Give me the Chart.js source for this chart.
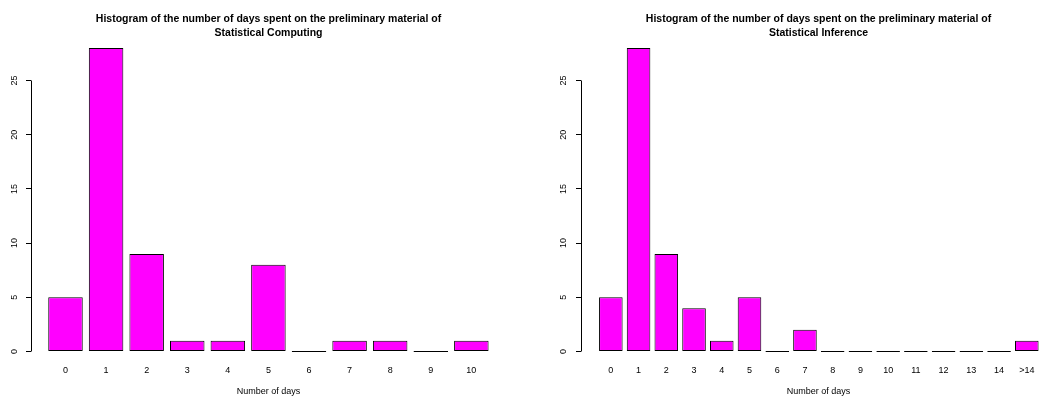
<!DOCTYPE html>
<html>
<head>
<meta charset="utf-8">
<script src="https://cdn.jsdelivr.net/npm/chart.js@4"></script>
<style>
html,body{margin:0;padding:0;background:#fff;overflow:hidden;width:1040px;height:399px}
canvas{position:absolute;top:0}
#computing{left:0}
#inference{left:550px}
</style>
</head>
<body>
<canvas id="computing" width="537" height="399"></canvas>
<canvas id="inference" width="537" height="399"></canvas>
<script>
const computingDays = ["0","1","2","3","4","5","6","7","8","9","10"];
const computingCounts = [5,28,9,1,1,8,0,1,1,0,1];
const inferenceDays = ["0","1","2","3","4","5","6","7","8","9","10","11","12","13","14",">14"];
const inferenceCounts = [5,28,9,4,1,5,0,2,0,0,0,0,0,0,0,1];
const yTicks = [0,5,10,15,20,25];

Chart.defaults.font.family = "'Liberation Sans', Arial, sans-serif";
Chart.defaults.color = "#000";

// R draws the y axis line only between the first and last tick
const yAxisLine = {
  id: "yAxisLine",
  afterDraw(chart){
    const s = chart.scales.y, ctx = chart.ctx;
    const x = Math.round(chart.chartArea.left) + 0.5;
    ctx.save();
    ctx.strokeStyle = "#000";
    ctx.lineWidth = 1;
    ctx.beginPath();
    ctx.moveTo(x, s.getPixelForValue(yTicks[0]));
    ctx.lineTo(x, s.getPixelForValue(yTicks[yTicks.length-1]));
    ctx.stroke();
    ctx.restore();
  }
};

function makeChart(id, subject, labels, counts, xmin, xmax, labelPad){
  return new Chart(document.getElementById(id), {
    type: "bar",
    data: {
      datasets: [{
        data: counts.map((v,i)=>({x:i, y:v})),
        backgroundColor: "#ff00ff",
        borderColor: "#000",
        borderWidth: 1,
        borderSkipped: false,
        minBarLength: 1,
        barPercentage: 0.85,
        categoryPercentage: 1
      }]
    },
    options: {
      responsive: false,
      animation: false,
      layout: {padding: {left: 31, right: 31, top: 0, bottom: 0}},
      plugins: {
        legend: {display: false},
        tooltip: {enabled: false},
        title: {
          display: true,
          text: ["Histogram of the number of days spent on the preliminary material of", subject],
          font: {size: 10.5, weight: "bold", lineHeight: 14/10.5},
          padding: {top: 12, bottom: 0},
          color: "#000"
        }
      },
      scales: {
        x: {
          type: "linear",
          offset: false,
          min: xmin,
          max: xmax,
          grid: {display: false, drawTicks: false},
          border: {display: false},
          afterBuildTicks: s => { s.ticks = labels.map((_,i)=>({value:i})); },
          afterFit: s => { s.height = 36; },
          ticks: {
            autoSkip: false,
            maxRotation: 0,
            padding: 2.3,
            font: {size: 9},
            callback: (v,i) => labels[i]
          },
          title: {display: true, text: "Number of days", font: {size: 9}, padding: {top: 0, bottom: 1.6}}
        },
        y: {
          min: -1.061,
          max: 28.736,
          grid: {display: true, drawOnChartArea: false, drawTicks: true, tickLength: 5, color: "#000", lineWidth: 1},
          border: {display: false},
          afterBuildTicks: s => { s.ticks = yTicks.map(v=>({value:v})); },
          afterFit: s => { s.width = 0; },
          ticks: {
            mirror: true,
            minRotation: 90,
            maxRotation: 90,
            crossAlign: "center",
            padding: labelPad,
            font: {size: 9}
          }
        }
      }
    },
    plugins: [yAxisLine]
  });
}

makeChart("computing", "Statistical Computing", computingDays, computingCounts, -0.850, 10.854, -21);
makeChart("inference", "Statistical Inference", inferenceDays, inferenceCounts, -1.076, 16.053, -22);
</script>
</body>
</html>
